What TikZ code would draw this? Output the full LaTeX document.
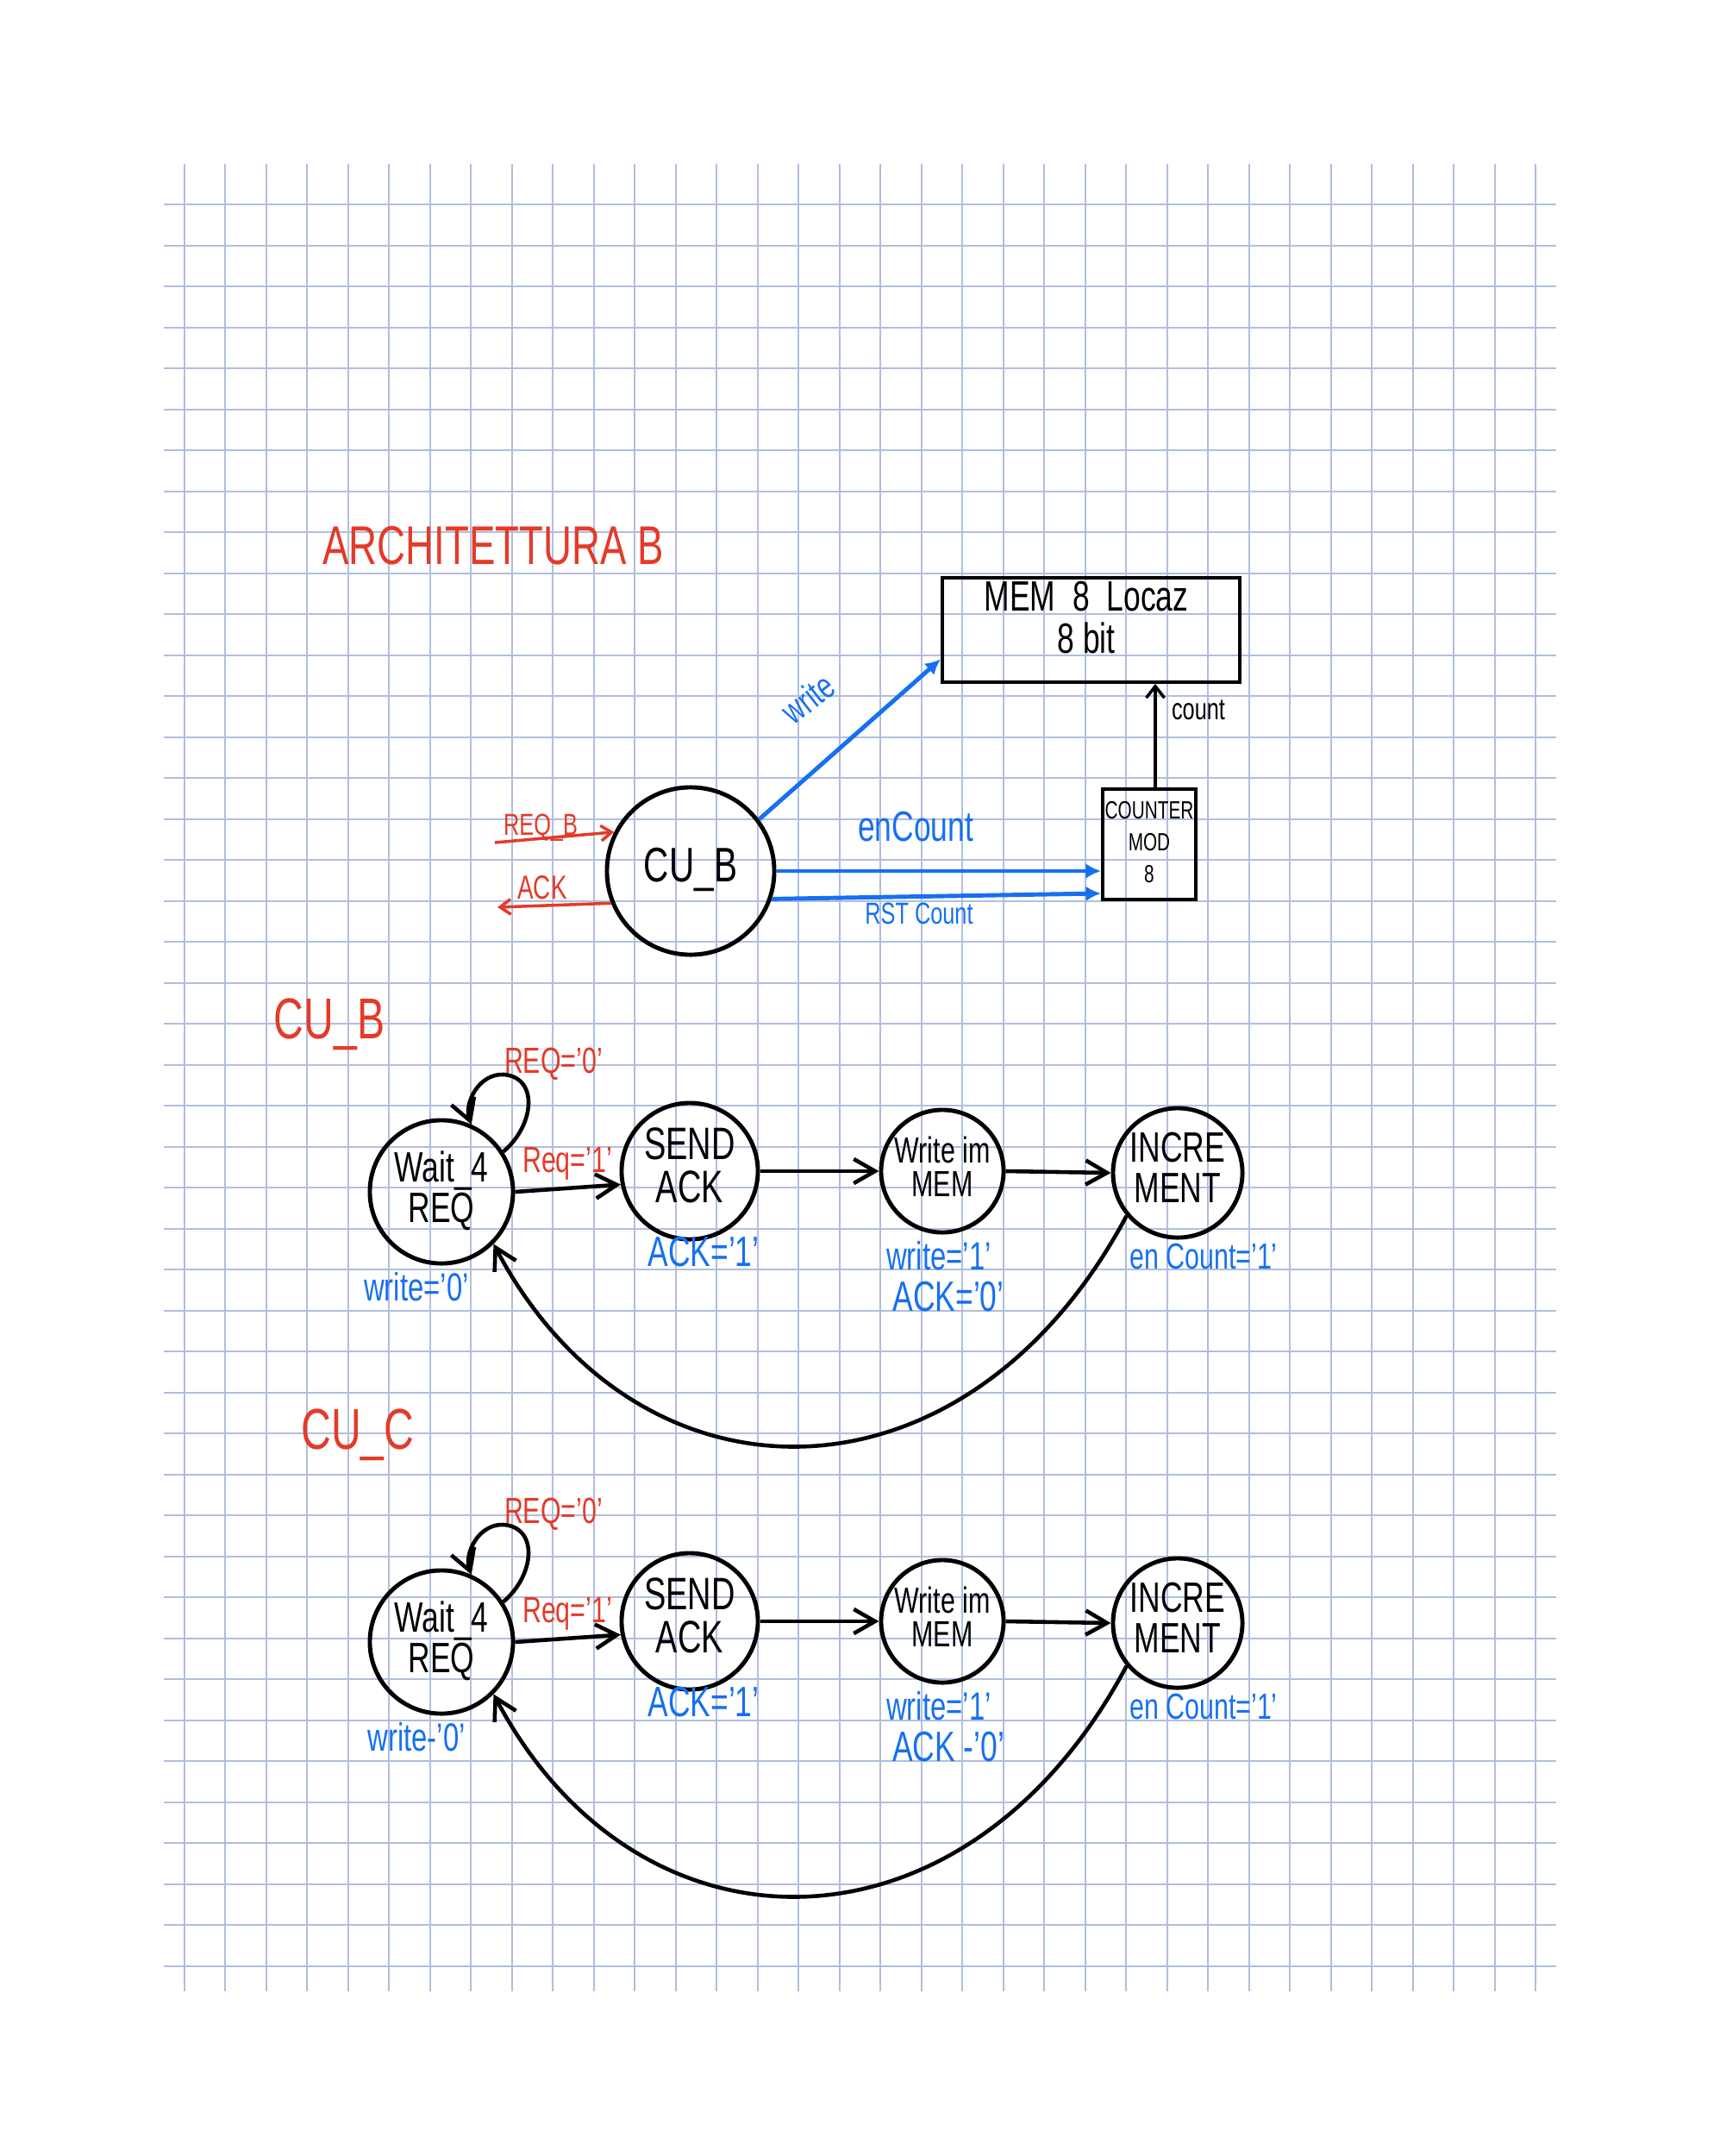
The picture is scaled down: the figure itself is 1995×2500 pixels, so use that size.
\documentclass[tikz,border=0pt]{standalone}
\usepackage{fontspec}
\usepackage{graphicx}
\setmainfont{Liberation Sans}
\usetikzlibrary{arrows.meta}

\definecolor{penred}{RGB}{228,58,40}
\definecolor{penblue}{RGB}{22,112,240}
\definecolor{gridblue}{RGB}{176,190,222}

% handwriting is narrow: squeeze the text sideways
\newcommand{\hw}[3][0.85]{{\fontsize{#2}{#2}\selectfont\def\arraystretch{#1}%
  \scalebox{0.72}[1]{\begin{tabular}{@{}c@{}}#3\end{tabular}}}}

\begin{document}
\begin{tikzpicture}[x=0.01cm, y=-0.01cm,
  state/.style={draw, circle, line width=1.4pt, inner sep=0pt},
  box/.style={draw, rectangle, line width=1.1pt, inner sep=0pt},
  bluearr/.style={penblue, line width=1.4pt, -{Latex[length=5pt,width=5pt]}},
  redarr/.style={penred, line width=1pt, -{Straight Barb[length=3.5pt,width=5pt]}},
  trans/.style={line width=1.3pt, -{Straight Barb[length=7pt,width=8pt]}}]
  \useasboundingbox (0,0) rectangle (1995,2500);

  % squared paper
  \foreach \k in {0,...,43}
    \draw[gridblue, line width=0.5pt] (190,237.3+47.5*\k) -- (1805,237.3+47.5*\k);
  \foreach \k in {0,...,33}
    \draw[gridblue, line width=0.5pt] (213.7+47.5*\k,190) -- (213.7+47.5*\k,2309);

  % architecture
  \node[penred] (title) at (572,640) {\hw{18}{ARCHITETTURA B}};
  \node[box, minimum width=3.45cm, minimum height=1.21cm] (mem) at (1265.5,730.5) {};
  \node (memtxt) at (1260,722) {\hw{14}{MEM\ \ 8\ \ Locaz\\8 bit}};
  \node[box, minimum width=1.08cm, minimum height=1.28cm] (ctr) at (1333,979)
    {\hw[1.3]{8.2}{COUNTER\\MOD\\8}};
  \node[state, minimum size=1.94cm] (cuB) at (801,1010) {\hw{16}{CU\_B}};

  \draw[line width=1pt, -{Straight Barb[length=3.8pt,width=6pt]}]
    ([xshift=0.07cm]ctr.north) -- ([xshift=0.07cm]ctr.north |- mem.south);
  \node (cnt) at (1390,828) {\hw{10}{count}};

  \draw[bluearr] (cuB.37) -- (mem.191);
  \draw[bluearr] (cuB.east) -- (cuB.east -| ctr.west);
  \draw[bluearr] (cuB.-19) -- ([yshift=0.09cm]ctr.south west);
  \node[penblue, rotate=38] (wlab) at (940,814) {\hw{12}{write}};
  \node[penblue] (enlab) at (1062,965) {\hw{14}{enCount}};
  \node[penblue] (rstlab) at (1066,1064) {\hw{10}{RST Count}};

  \coordinate (reqin) at (574,977);
  \coordinate (ackout) at (577,1052);
  \draw[redarr] (reqin) -- (cuB.153);
  \draw[redarr] (cuB.202) -- (ackout);
  \node[penred] (reqlab) at (627,961) {\hw{10}{REQ\_B}};
  \node[penred] (acklab) at (629,1034) {\hw{11}{ACK}};

  % the two control units
  \node[penred] (hdB) at (382,1190) {\hw{19}{CU\_B}};
  \node[penred] (hdC) at (415,1666) {\hw{19}{CU\_C}};

  \foreach \s/\dy/\wz/\az in {B/0/{write='0'}/{ACK='0'}, C/522/{write-'0'}/{ACK -'0'}} {
    \node[state, minimum size=1.66cm] (wait\s) at (512,1382+\dy) {\hw{14}{Wait\_4\\REQ}};
    \node[state, minimum size=1.58cm] (send\s) at (800,1358+\dy) {\hw{15}{SEND\\ACK}};
    \node[state, minimum size=1.42cm] (write\s) at (1093,1358+\dy) {\hw{12}{Write im\\MEM}};
    \node[state, minimum size=1.50cm] (inc\s) at (1366,1360+\dy) {\hw{14}{INCRE\\MENT}};

    \draw[trans] (wait\s.east) -- (send\s.191);
    \draw[trans] (send\s.east) -- (write\s.west);
    \draw[trans] (write\s.east) -- (inc\s.west);
    \draw[trans] (wait\s.33) .. controls (620,1305+\dy) and (625,1250+\dy) .. (585,1246+\dy)
                 .. controls (555,1244+\dy) and (538,1280+\dy) .. (wait\s.66);
    \draw[trans] (inc\s.220) .. controls (1120,1760+\dy) and (740,1760+\dy) .. (wait\s.-45);

    \node[penred] (loop\s) at (642,1235+\dy) {\hw{12}{REQ='0'}};
    \node[penred] (go\s) at (658,1350+\dy) {\hw{12}{Req='1'}};
    \node[penblue] (wo\s) at (483,1498+\dy) {\hw{13}{\wz}};
    \node[penblue] (ao\s) at (816,1458+\dy) {\hw{14}{ACK='1'}};
    \node[penblue] (mo\s) at (1089,1462+\dy) {\hw{13}{write='1'}};
    \node[penblue] (mk\s) at (1100,1510+\dy) {\hw{14}{\az}};
    \node[penblue] (io\s) at (1396,1462+\dy) {\hw{12}{en Count='1'}};
  }
\end{tikzpicture}
\end{document}
